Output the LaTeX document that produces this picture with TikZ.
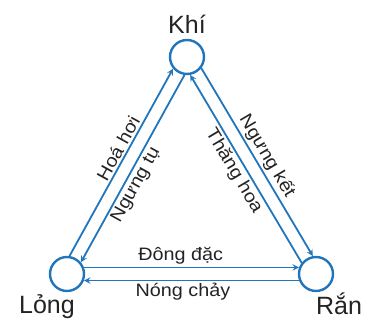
\documentclass[tikz,border=0pt]{standalone}
\usepackage{fontspec}
\setmainfont{Liberation Sans}
\newfontfamily\edgefont{Liberation Sans}[FakeStretch=1.1]
\usetikzlibrary{arrows,shapes}
\definecolor{phaseblue}{RGB}{33,117,186}
\definecolor{textgray}{RGB}{35,35,35}

\begin{document}
\begin{tikzpicture}[x=1pt,y=1pt,node distance=33pt,>=stealth,line width=1.8pt,phaseblue]
      \tikzstyle{phase}=[circle,draw=phaseblue,line width=2.4pt,fill=white,minimum size=34pt,inner sep=0pt]
      \tikzstyle{state}=[text=textgray,inner sep=1pt,font=\fontsize{25}{28}\selectfont]
      \tikzstyle{change}=[text=textgray,font=\edgefont\fontsize{18}{20}\selectfont,sloped,inner sep=2pt]
      \useasboundingbox (0,0) rectangle (368,321);
      \node[phase](khi) at (187,264){};
      \node[phase](long) at (67,47){};
      \node[phase](ran) at (316,47){};
      \node[state,above of=khi](khi-lbl){Khí};
      \node[state,below of=long,xshift=-20pt](long-lbl){Lỏng};
      \node[state,below of=ran,xshift=23pt,yshift=3pt](ran-lbl){Rắn};
      \draw[->](long.82)--(khi.220) node[pos=.55,change,above]{Hoá hơi};
      \draw[->](khi.262)--(long.40) node[pos=.56,change,below]{Ngưng tụ};
      \draw[->](khi.322)--(ran.100) node[midway,change,above]{Ngưng kết};
      \draw[->](ran.142)--(khi.280) node[pos=.52,change,below]{Thăng hoa};
      \draw[->](long.21)--(ran.159) node[pos=.45,change,above]{Đông đặc};
      \draw[->](ran.201)--(long.339) node[pos=.54,change,below]{Nóng chảy};
    \end{tikzpicture}
\end{document}
